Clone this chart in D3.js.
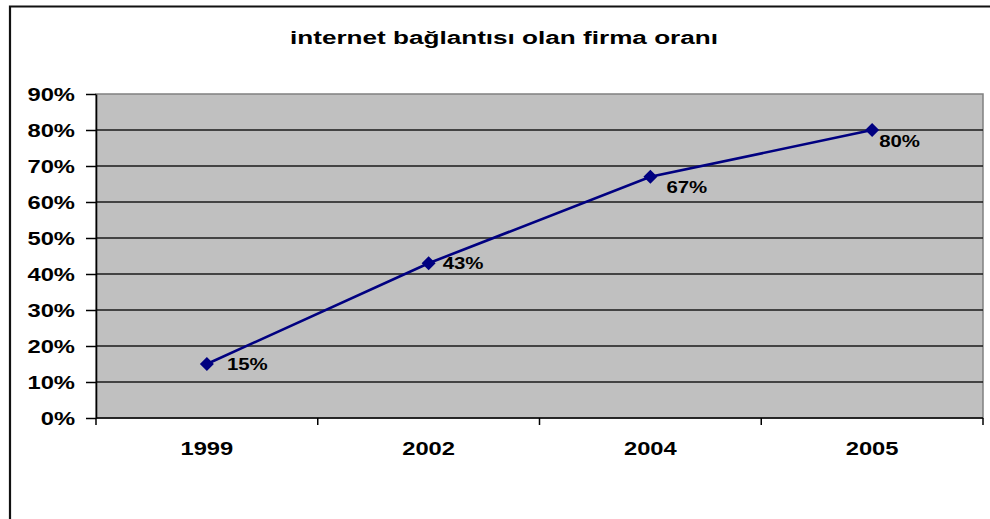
<!DOCTYPE html>
<html>
<head>
<meta charset="utf-8">
<script src="https://cdn.jsdelivr.net/npm/d3@7"></script>
<style>
  html, body { margin: 0; padding: 0; background: #fff; }
  svg { display: block; }
  text { font-family: "Liberation Sans", Arial, sans-serif; font-weight: bold; fill: #000; }
</style>
</head>
<body>
<svg id="chart" width="990" height="519"></svg>
<script>
// Share of firms with an internet connection, by year
const years = ["1999", "2002", "2004", "2005"];
const shares = [15, 43, 67, 80];
const yTicks = [0, 10, 20, 30, 40, 50, 60, 70, 80, 90];
const chartTitle = "internet bağlantısı olan firma oranı";

// Small nudges for the value labels so they clear the line
const labelNudge = [[20, 6], [14, 6], [16, 16], [7, 17]];

const W = 990, H = 519;
const plot = { left: 96, top: 94, right: 983, bottom: 418 };
const sx = 1.25; // horizontal stretch of the lettering

const svg = d3.select("#chart");

// Outer chart frame (top and left edges visible)
svg.append("path")
  .attr("d", `M10,${H + 5} L10,6.5 L${W + 5},6.5`)
  .attr("fill", "none").attr("stroke", "#111").attr("stroke-width", 2.2);

// Title
svg.append("text")
  .attr("x", 504).attr("y", 44)
  .attr("text-anchor", "middle")
  .attr("font-size", 18)
  .attr("textLength", 428)
  .attr("lengthAdjust", "spacingAndGlyphs")
  .text(chartTitle);

const x = d3.scaleBand().domain(years).range([plot.left, plot.right]).padding(0);
const y = d3.scaleLinear().domain([0, 90]).range([plot.bottom, plot.top]);

// Plot background
svg.append("rect")
  .attr("x", plot.left).attr("y", plot.top)
  .attr("width", plot.right - plot.left).attr("height", plot.bottom - plot.top)
  .attr("fill", "#c0c0c0").attr("stroke", "#808080").attr("stroke-width", 1.5);

// Horizontal gridlines
svg.append("g").selectAll("line")
  .data(yTicks.filter(d => d > 0 && d < 90))
  .join("line")
  .attr("x1", plot.left).attr("x2", plot.right)
  .attr("y1", d => y(d)).attr("y2", d => y(d))
  .attr("stroke", "#1a1a1a").attr("stroke-width", 1.5);

// Y axis
const yAxis = svg.append("g")
  .attr("transform", `translate(${plot.left},0)`)
  .call(d3.axisLeft(y).tickValues(yTicks).tickFormat(d => d + "%").tickSize(10).tickSizeOuter(0).tickPadding(11));
yAxis.select(".domain").attr("stroke", "#000").attr("stroke-width", 1.6);
yAxis.selectAll(".tick line").attr("stroke", "#000").attr("stroke-width", 1.5);
yAxis.selectAll(".tick text")
  .attr("font-size", 19)
  .attr("font-family", null)
  .attr("fill", "#111")
  .each(function () {
    const t = d3.select(this);
    const xx = +t.attr("x");
    t.attr("x", xx / sx).attr("transform", `scale(${sx},1)`).attr("dy", "0.36em");
  });

// X axis: ticks at category boundaries
const xAxisG = svg.append("g").attr("transform", `translate(0,${plot.bottom})`);
xAxisG.append("line")
  .attr("x1", plot.left).attr("x2", plot.right)
  .attr("stroke", "#000").attr("stroke-width", 1.6);
const boundaries = years.map(d => x(d)).concat([x(years[years.length - 1]) + x.bandwidth()]);
xAxisG.selectAll("line.tk")
  .data(boundaries)
  .join("line").attr("class", "tk")
  .attr("x1", d => d).attr("x2", d => d)
  .attr("y1", 0).attr("y2", 7)
  .attr("stroke", "#000").attr("stroke-width", 1.5);
xAxisG.selectAll("text")
  .data(years)
  .join("text")
  .attr("transform", d => `translate(${x(d) + x.bandwidth() / 2},37) scale(${sx},1)`)
  .attr("text-anchor", "middle")
  .attr("font-size", 19)
  .attr("fill", "#111")
  .text(d => d);

// Series line
const pts = years.map((d, i) => ({ year: d, v: shares[i], i }));
const cx = d => x(d.year) + x.bandwidth() / 2;
svg.append("path")
  .datum(pts)
  .attr("d", d3.line().x(cx).y(d => y(d.v)))
  .attr("fill", "none").attr("stroke", "#000080").attr("stroke-width", 2.6);

// Diamond markers
svg.append("g").selectAll("path")
  .data(pts)
  .join("path")
  .attr("transform", d => `translate(${cx(d)},${y(d.v)})`)
  .attr("d", "M0,-7 L7,0 L0,7 L-7,0 Z")
  .attr("fill", "#000080");

// Value labels
svg.append("g").selectAll("text")
  .data(pts)
  .join("text")
  .attr("transform", d => `translate(${cx(d) + labelNudge[d.i][0]},${y(d.v) + labelNudge[d.i][1]}) scale(1.2,1)`)
  .attr("font-size", 17)
  .attr("fill", "#111")
  .text(d => d.v + "%");
</script>
</body>
</html>
